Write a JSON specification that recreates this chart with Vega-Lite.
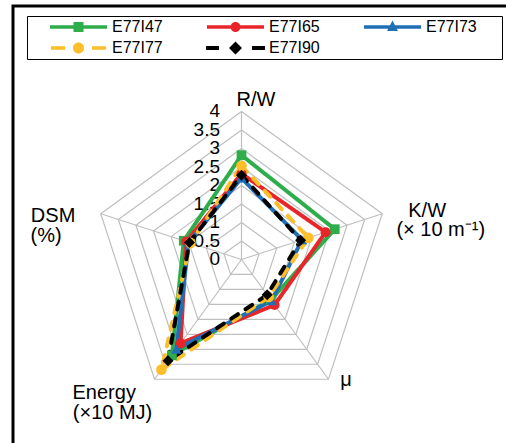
{
  "$schema": "https://vega.github.io/schema/vega-lite/v6.json",
  "width": 493,
  "height": 437,
  "autosize": {"type": "none"},
  "padding": {"left": 13, "top": 6, "right": 0, "bottom": 0},
  "background": "white",
  "config": {
    "view": {"stroke": "black", "strokeWidth": 3, "strokeDash": [493, 930, 437], "strokeCap": "square", "fill": "white"},
    "font": "Liberation Sans",
    "text": {"font": "Liberation Sans", "color": "black"}
  },
  "datasets": {
    "axes": [
      {"axis": "R/W", "i": 0, "levels": [0, 0.5, 1, 1.5, 2, 2.5, 3, 3.5, 4]},
      {"axis": "K/W", "i": 1, "levels": [0, 0.5, 1, 1.5, 2, 2.5, 3, 3.5, 4]},
      {"axis": "μ", "i": 2, "levels": [0, 0.5, 1, 1.5, 2, 2.5, 3, 3.5, 4]},
      {"axis": "Energy", "i": 3, "levels": [0, 0.5, 1, 1.5, 2, 2.5, 3, 3.5, 4]},
      {"axis": "DSM", "i": 4, "levels": [0, 0.5, 1, 1.5, 2, 2.5, 3, 3.5, 4]}
    ],
    "scores": [
      {"series": "E77I47", "axis": "R/W", "value": 2.82},
      {"series": "E77I47", "axis": "K/W", "value": 2.65},
      {"series": "E77I47", "axis": "μ", "value": 1.35},
      {"series": "E77I47", "axis": "Energy", "value": 3.2},
      {"series": "E77I47", "axis": "DSM", "value": 1.64},
      {"series": "E77I65", "axis": "R/W", "value": 2.32},
      {"series": "E77I65", "axis": "K/W", "value": 2.39},
      {"series": "E77I65", "axis": "μ", "value": 1.52},
      {"series": "E77I65", "axis": "Energy", "value": 2.8},
      {"series": "E77I65", "axis": "DSM", "value": 1.57},
      {"series": "E77I73", "axis": "R/W", "value": 2.2},
      {"series": "E77I73", "axis": "K/W", "value": 1.72},
      {"series": "E77I73", "axis": "μ", "value": 1.38},
      {"series": "E77I73", "axis": "Energy", "value": 3.0},
      {"series": "E77I73", "axis": "DSM", "value": 1.5},
      {"series": "E77I77", "axis": "R/W", "value": 2.53},
      {"series": "E77I77", "axis": "K/W", "value": 1.9},
      {"series": "E77I77", "axis": "μ", "value": 1.25},
      {"series": "E77I77", "axis": "Energy", "value": 3.68},
      {"series": "E77I77", "axis": "DSM", "value": 1.45},
      {"series": "E77I90", "axis": "R/W", "value": 2.28},
      {"series": "E77I90", "axis": "K/W", "value": 1.68},
      {"series": "E77I90", "axis": "μ", "value": 1.18},
      {"series": "E77I90", "axis": "Energy", "value": 3.38},
      {"series": "E77I90", "axis": "DSM", "value": 1.48}
    ],
    "labels": [
      {"axis": "R/W", "line": 1, "text": "R/W"},
      {"axis": "K/W", "line": 1, "text": "K/W"},
      {"axis": "K/W", "line": 2, "text": "(× 10 m⁻¹)"},
      {"axis": "μ", "line": 1, "text": "μ"},
      {"axis": "Energy", "line": 1, "text": "Energy"},
      {"axis": "Energy", "line": 2, "text": "(×10 MJ)"},
      {"axis": "DSM", "line": 1, "text": "DSM"},
      {"axis": "DSM", "line": 2, "text": "(%)"}
    ]
  },
  "resolve": {"scale": {"color": "independent", "shape": "independent"}},
  "layer": [
    {
      "data": {"name": "axes"},
      "transform": [
        {"flatten": ["levels"], "as": ["level"]},
        {"filter": "datum.level > 0"},
        {"calculate": "PI/2 - datum.i*2*PI/5", "as": "ang"},
        {"calculate": "datum.level*cos(datum.ang)", "as": "x"},
        {"calculate": "datum.level*sin(datum.ang)", "as": "y"}
      ],
      "mark": {"type": "line", "interpolate": "linear-closed", "color": "#BFBFBF", "strokeWidth": 1.2},
      "encoding": {
        "x": {"field": "x", "type": "quantitative", "scale": {"domain": [-6.17568, 7.14865], "nice": false, "zero": false}, "axis": null},
        "y": {"field": "y", "type": "quantitative", "scale": {"domain": [-4.95946, 6.85135], "nice": false, "zero": false}, "axis": null},
        "detail": {"field": "level", "type": "nominal"},
        "order": {"field": "i", "type": "quantitative"}
      }
    },
    {
      "data": {"name": "axes"},
      "transform": [
        {"calculate": "PI/2 - datum.i*2*PI/5", "as": "ang"},
        {"calculate": "4*cos(datum.ang)", "as": "x"},
        {"calculate": "4*sin(datum.ang)", "as": "y"}
      ],
      "mark": {"type": "rule", "color": "#BFBFBF", "strokeWidth": 1.2},
      "encoding": {
        "x": {"field": "x", "type": "quantitative", "scale": {"domain": [-6.17568, 7.14865], "nice": false, "zero": false}, "axis": null},
        "y": {"field": "y", "type": "quantitative", "scale": {"domain": [-4.95946, 6.85135], "nice": false, "zero": false}, "axis": null},
        "x2": {"datum": 0},
        "y2": {"datum": 0}
      }
    },
    {
      "data": {"name": "axes"},
      "transform": [
        {"filter": "datum.axis == 'R/W'"},
        {"flatten": ["levels"], "as": ["level"]},
        {"calculate": "PI/2 - datum.i*2*PI/5", "as": "ang"},
        {"calculate": "datum.level*cos(datum.ang)", "as": "x"},
        {"calculate": "datum.level*sin(datum.ang)", "as": "y"}
      ],
      "mark": {"type": "text", "align": "right", "baseline": "middle", "dx": -21.5, "fontSize": 19, "font": "Liberation Sans", "color": "black"},
      "encoding": {
        "x": {"field": "x", "type": "quantitative", "scale": {"domain": [-6.17568, 7.14865], "nice": false, "zero": false}, "axis": null},
        "y": {"field": "y", "type": "quantitative", "scale": {"domain": [-4.95946, 6.85135], "nice": false, "zero": false}, "axis": null},
        "text": {"field": "level", "type": "nominal"}
      }
    },
    {
      "data": {"name": "scores"},
      "transform": [
        {"lookup": "axis", "from": {"data": {"name": "axes"}, "key": "axis", "fields": ["i"]}},
        {"calculate": "PI/2 - datum.i*2*PI/5", "as": "ang"},
        {"calculate": "datum.value*cos(datum.ang)", "as": "x"},
        {"calculate": "datum.value*sin(datum.ang)", "as": "y"}
      ],
      "mark": {"type": "line", "interpolate": "linear-closed", "strokeWidth": 4, "strokeCap": "round", "strokeJoin": "round"},
      "encoding": {
        "x": {"field": "x", "type": "quantitative", "scale": {"domain": [-6.17568, 7.14865], "nice": false, "zero": false}, "axis": null},
        "y": {"field": "y", "type": "quantitative", "scale": {"domain": [-4.95946, 6.85135], "nice": false, "zero": false}, "axis": null},
        "stroke": {"field": "series", "type": "nominal", "scale": {"domain": ["E77I47", "E77I65", "E77I73", "E77I77", "E77I90"], "range": ["#2EAD4B", "#E8262A", "#1F6FB5", "#FDBE2A", "#000000"]}, "legend": null},
        "strokeDash": {"field": "series", "type": "nominal", "scale": {"domain": ["E77I47", "E77I65", "E77I73", "E77I77", "E77I90"], "range": [[1, 0], [1, 0], [1, 0], [8, 9], [8, 9]]}, "legend": null},
        "order": {"field": "i", "type": "quantitative"}
      }
    },
    {
      "data": {"name": "scores"},
      "transform": [
        {"lookup": "axis", "from": {"data": {"name": "axes"}, "key": "axis", "fields": ["i"]}},
        {"calculate": "PI/2 - datum.i*2*PI/5", "as": "ang"},
        {"calculate": "datum.value*cos(datum.ang)", "as": "x"},
        {"calculate": "datum.value*sin(datum.ang)", "as": "y"}
      ],
      "mark": {"type": "point", "filled": true, "opacity": 1},
      "encoding": {
        "x": {"field": "x", "type": "quantitative", "scale": {"domain": [-6.17568, 7.14865], "nice": false, "zero": false}, "axis": null},
        "y": {"field": "y", "type": "quantitative", "scale": {"domain": [-4.95946, 6.85135], "nice": false, "zero": false}, "axis": null},
        "fill": {"field": "series", "type": "nominal", "scale": {"domain": ["E77I47", "E77I65", "E77I73", "E77I77", "E77I90"], "range": ["#2EAD4B", "#E8262A", "#1F6FB5", "#FDBE2A", "#000000"]}, "legend": null},
        "shape": {"field": "series", "type": "nominal", "scale": {"domain": ["E77I47", "E77I65", "E77I73", "E77I77", "E77I90"], "range": ["square", "circle", "triangle-up", "circle", "diamond"]}, "legend": null},
        "size": {"field": "series", "type": "nominal", "scale": {"domain": ["E77I47", "E77I65", "E77I73", "E77I77", "E77I90"], "range": [95, 121, 110, 144, 190]}, "legend": null}
      }
    },
    {
      "data": {"name": "scores"},
      "transform": [
        {"lookup": "axis", "from": {"data": {"name": "axes"}, "key": "axis", "fields": ["i"]}},
        {"filter": "datum.i > 99"}
      ],
      "mark": {"type": "point", "filled": true, "opacity": 1},
      "encoding": {
        "x": {"field": "i", "type": "quantitative", "scale": {"domain": [-6.17568, 7.14865], "nice": false, "zero": false}, "axis": null},
        "y": {"field": "i", "type": "quantitative", "scale": {"domain": [-4.95946, 6.85135], "nice": false, "zero": false}, "axis": null},
        "color": {
          "field": "series", "type": "nominal",
          "scale": {"domain": ["E77I47", "E77I65", "E77I73", "E77I77", "E77I90"], "range": ["#2EAD4B", "#E8262A", "#1F6FB5", "#FDBE2A", "#000000"]},
          "legend": {"title": null, "orient": "none", "direction": "horizontal", "legendX": 14, "legendY": 10, "columns": 3, "columnPadding": 2, "rowPadding": 5, "padding": 3, "strokeColor": "black", "fillColor": "white", "symbolSize": 100, "symbolStrokeWidth": 0, "symbolOpacity": 1, "symbolOffset": 40.5, "labelOffset": 25.5, "labelFont": "Liberation Sans", "labelFontSize": 16, "labelColor": "black", "labelLimit": 300}
        },
        "shape": {
          "field": "series", "type": "nominal",
          "scale": {"domain": ["E77I47", "E77I65", "E77I73", "E77I77", "E77I90"], "range": [
            "M-5.7,-0.35L5.7,-0.35L5.7,0.35L-5.7,0.35Z M-1,-1L1,-1L1,1L-1,1Z M21.2,0Z",
            "M-5.7,-0.35L5.7,-0.35L5.7,0.35L-5.7,0.35Z M1,0A1,1 0 1,1 -1,0A1,1 0 1,1 1,0Z M21.2,0Z",
            "M-5.7,-0.35L5.7,-0.35L5.7,0.35L-5.7,0.35Z M0,-1.3L1.1,0.8L-1.1,0.8Z M21.2,0Z",
            "M-5.5,-0.35L-2.7,-0.35L-2.7,0.35L-5.5,0.35Z M2.7,-0.35L5.5,-0.35L5.5,0.35L2.7,0.35Z M1.1,0A1.1,1.1 0 1,1 -1.1,0A1.1,1.1 0 1,1 1.1,0Z M21.2,0Z",
            "M-5.9,-0.4L-3.3,-0.4L-3.3,0.4L-5.9,0.4Z M3.3,-0.4L5.9,-0.4L5.9,0.4L3.3,0.4Z M0,-1.3L1.3,0L0,1.3L-1.3,0Z M21.2,0Z"
          ]},
          "legend": {"title": null, "orient": "none", "direction": "horizontal", "legendX": 14, "legendY": 10, "columns": 3, "columnPadding": 2, "rowPadding": 5, "padding": 3, "strokeColor": "black", "fillColor": "white", "symbolSize": 100, "symbolStrokeWidth": 0, "symbolOpacity": 1, "symbolOffset": 40.5, "labelOffset": 25.5, "labelFont": "Liberation Sans", "labelFontSize": 16, "labelColor": "black", "labelLimit": 300}
        }
      }
    },
    {
      "data": {"name": "labels"},
      "transform": [
        {"lookup": "axis", "from": {"data": {"name": "axes"}, "key": "axis", "fields": ["i"]}},
        {"calculate": "PI/2 - datum.i*2*PI/5", "as": "ang"},
        {"calculate": "4*cos(datum.ang)", "as": "x"},
        {"calculate": "4*sin(datum.ang)", "as": "y"}
      ],
      "encoding": {
        "x": {"field": "x", "type": "quantitative", "scale": {"domain": [-6.17568, 7.14865], "nice": false, "zero": false}, "axis": null},
        "y": {"field": "y", "type": "quantitative", "scale": {"domain": [-4.95946, 6.85135], "nice": false, "zero": false}, "axis": null},
        "text": {"field": "text", "type": "nominal"}
      },
      "layer": [
        {"transform": [{"filter": "datum.axis == 'R/W'"}], "mark": {"type": "text", "align": "left", "baseline": "alphabetic", "dx": -5, "dy": -5.5, "fontSize": 20}},
        {"transform": [{"filter": "datum.axis == 'K/W' && datum.line == 1"}], "mark": {"type": "text", "align": "center", "baseline": "alphabetic", "dx": 44.9, "dy": 2.9, "fontSize": 20}},
        {"transform": [{"filter": "datum.axis == 'K/W' && datum.line == 2"}], "mark": {"type": "text", "align": "center", "baseline": "alphabetic", "dx": 58.5, "dy": 22.2, "fontSize": 20}},
        {"transform": [{"filter": "datum.axis == 'μ'"}], "mark": {"type": "text", "align": "center", "baseline": "alphabetic", "dx": 17.5, "dy": 6.8, "fontSize": 20}},
        {"transform": [{"filter": "datum.axis == 'Energy' && datum.line == 1"}], "mark": {"type": "text", "align": "left", "baseline": "alphabetic", "dx": -82, "dy": 20.1, "fontSize": 20}},
        {"transform": [{"filter": "datum.axis == 'Energy' && datum.line == 2"}], "mark": {"type": "text", "align": "left", "baseline": "alphabetic", "dx": -81.7, "dy": 40.1, "fontSize": 20}},
        {"transform": [{"filter": "datum.axis == 'DSM' && datum.line == 1"}], "mark": {"type": "text", "align": "left", "baseline": "alphabetic", "dx": -69.9, "dy": 7.9, "fontSize": 20}},
        {"transform": [{"filter": "datum.axis == 'DSM' && datum.line == 2"}], "mark": {"type": "text", "align": "left", "baseline": "alphabetic", "dx": -70.2, "dy": 28.2, "fontSize": 20}}
      ]
    }
  ]
}
